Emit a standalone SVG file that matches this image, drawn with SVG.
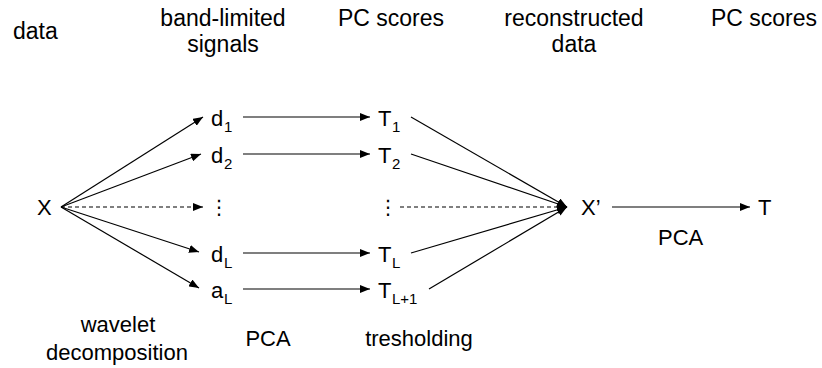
<svg xmlns="http://www.w3.org/2000/svg" width="822" height="368" viewBox="0 0 822 368">
  <style>
    text { font-family: "Liberation Sans", Arial, sans-serif; font-size: 22px; fill: #000; }
    .head { font-size: 23px; }
    .sub { font-size: 15px; }
    .mid { text-anchor: middle; }
    .vdots { font-family: "DejaVu Sans", sans-serif; font-size: 20px; }
    .edge { stroke: #000; stroke-width: 1.2; fill: none; marker-end: url(#head); }
    .dash { stroke-dasharray: 4 3; }
  </style>
  <defs>
    <marker id="head" markerUnits="userSpaceOnUse" markerWidth="10" markerHeight="8" refX="10" refY="4" orient="auto">
      <path d="M0,0 L10,4 L0,8 Z" fill="#000"/>
    </marker>
  </defs>

  <!-- column headings -->
  <g id="headings">
    <text class="head" x="13" y="39">data</text>
    <text class="head mid" x="223" y="26">band-limited</text>
    <text class="head mid" x="223" y="52">signals</text>
    <text class="head mid" x="391" y="26">PC scores</text>
    <text class="head mid" x="574" y="26">reconstructed</text>
    <text class="head mid" x="574" y="52">data</text>
    <text class="head mid" x="764" y="26">PC scores</text>
  </g>

  <!-- step labels -->
  <g id="steps">
    <text class="mid" x="118" y="332">wavelet</text>
    <text class="mid" x="117" y="360">decomposition</text>
    <text class="mid" x="268" y="346">PCA</text>
    <text class="mid" x="419" y="346">tresholding</text>
    <text x="658" y="245">PCA</text>
  </g>

  <!-- connectors -->
  <g id="connectors">
    <!-- wavelet decomposition -->
    <line class="edge" x1="61" y1="207" x2="203" y2="117"/>
    <line class="edge" x1="61" y1="207" x2="201" y2="154"/>
    <line class="edge dash" x1="61" y1="207" x2="203" y2="207"/>
    <line class="edge" x1="61" y1="207" x2="199" y2="252"/>
    <line class="edge" x1="61" y1="207" x2="199" y2="288"/>
    <!-- PCA per band -->
    <line class="edge" x1="243" y1="117" x2="370" y2="117"/>
    <line class="edge" x1="243" y1="154" x2="370" y2="154"/>
    <line class="edge" x1="243" y1="253" x2="370" y2="253"/>
    <line class="edge" x1="243" y1="289" x2="370" y2="289"/>
    <!-- thresholding / reconstruction -->
    <line class="edge" x1="411" y1="117" x2="567" y2="207"/>
    <line class="edge" x1="411" y1="154" x2="567" y2="207"/>
    <line class="edge dash" x1="400" y1="207" x2="567" y2="207"/>
    <line class="edge" x1="411" y1="253" x2="567" y2="207"/>
    <line class="edge" x1="429" y1="289" x2="567" y2="207"/>
    <!-- final PCA -->
    <line class="edge" x1="612" y1="207" x2="750" y2="207"/>
  </g>

  <g id="X"><text x="37" y="215">X</text></g>

  <g id="d1"><text x="211" y="126">d</text><text class="sub" x="224" y="132">1</text></g>
  <g id="d2"><text x="211" y="163">d</text><text class="sub" x="224" y="169">2</text></g>
  <g id="dots1"><text class="vdots mid" x="219" y="214">⋮</text></g>
  <g id="dL"><text x="211" y="262">d</text><text class="sub" x="224" y="268">L</text></g>
  <g id="aL"><text x="211" y="298">a</text><text class="sub" x="224" y="304">L</text></g>

  <g id="T1"><text x="378" y="126">T</text><text class="sub" x="392" y="132">1</text></g>
  <g id="T2"><text x="378" y="163">T</text><text class="sub" x="392" y="169">2</text></g>
  <g id="dots2"><text class="vdots mid" x="388" y="214">⋮</text></g>
  <g id="TL"><text x="378" y="262">T</text><text class="sub" x="392" y="268">L</text></g>
  <g id="TL1"><text x="378" y="298">T</text><text class="sub" x="392" y="304">L+1</text></g>

  <g id="Xp"><text x="581" y="215">X’</text></g>
  <g id="T"><text x="758" y="215">T</text></g>
</svg>
